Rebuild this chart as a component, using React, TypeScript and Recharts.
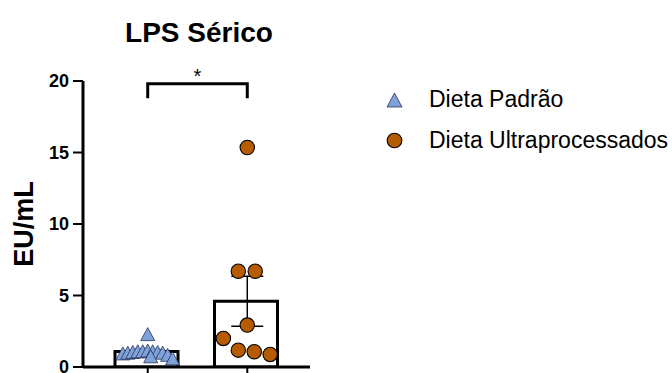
import React from 'react';
import {
  ComposedChart,
  Bar,
  Scatter,
  Line,
  XAxis,
  YAxis,
  ErrorBar,
  ReferenceDot,
} from 'recharts';

// Group names (x categories) and individual measurements (EU/mL)
const groups = ['Dieta Padrão', 'Dieta Ultraprocessados'];
const padraoValues = [2.3, 0.95, 1.0, 1.05, 1.1, 1.1, 1.15, 1.1, 1.05, 1.0, 0.85, 0.6, 0.75];
const padraoSpread = [0, -0.25, -0.2, -0.15, -0.1, -0.05, 0, 0.05, 0.1, 0.15, 0.2, 0.25, 0.03];
const ultraValues = [15.35, 6.7, 6.7, 2.93, 2.0, 1.18, 1.07, 0.88];
const ultraSpread = [0, -0.09, 0.08, 0, -0.24, -0.09, 0.07, 0.23];
const yTicks = [0, 5, 10, 15, 20];
const bracketLow = 18.8;
const bracketHigh = 19.8;
const significance = '*';
const title = 'LPS Sérico';
const yLabel = 'EU/mL';

const BLUE = '#7fa2d8';
const BLUE_EDGE = '#27345e';
const ORANGE = '#b65b00';
const FONT = '"Liberation Sans", Arial, Helvetica, sans-serif';

const mean = (v: number[]) => v.reduce((a, b) => a + b, 0) / v.length;
const sem = (v: number[]) => {
  const m = mean(v);
  const sd = Math.sqrt(v.reduce((a, b) => a + (b - m) ** 2, 0) / (v.length - 1));
  return sd / Math.sqrt(v.length);
};

const summary = [
  { x: 0, name: groups[0], mean: mean(padraoValues), sem: sem(padraoValues) },
  { x: 1, name: groups[1], mean: mean(ultraValues), sem: sem(ultraValues) },
];

const padraoPoints = padraoValues.map((y, i) => ({ x: 0 + padraoSpread[i], y }));
const ultraPoints = ultraValues.map((y, i) => ({ x: 1 + ultraSpread[i], y }));

const bracket = [
  { x: 0, y: bracketLow },
  { x: 0, y: bracketHigh },
  { x: 1, y: bracketHigh },
  { x: 1, y: bracketLow },
];

const TRI_W = 14;
const TRI_H = 13;

const Triangle = (props: any) => {
  const { cx, cy } = props;
  if (cx == null || cy == null) return <g />;
  return (
    <polygon
      points={`${cx},${cy - TRI_H / 2} ${cx - TRI_W / 2},${cy + TRI_H / 2} ${cx + TRI_W / 2},${cy + TRI_H / 2}`}
      fill={BLUE}
      stroke={BLUE_EDGE}
      strokeWidth={0.8}
    />
  );
};

const Dot = (props: any) => {
  const { cx, cy } = props;
  if (cx == null || cy == null) return <g />;
  return <circle cx={cx} cy={cy} r={7.2} fill={ORANGE} stroke="#000" strokeWidth={1.1} />;
};

const Hidden = () => <g />;

// Title and legend drawn on top of the chart surface
const Overlay = () => (
  <svg
    width={672}
    height={373}
    style={{ position: 'absolute', left: 0, top: 0, pointerEvents: 'none' }}
  >
    <text x={199} y={42} textAnchor="middle" fontFamily={FONT} fontWeight="bold" fontSize={28} fill="#000">
      {title}
    </text>
    <polygon
      points={`394.5,93 387,107 402,107`}
      fill={BLUE}
      stroke={BLUE_EDGE}
      strokeWidth={0.8}
    />
    <text x={429} y={107} fontFamily={FONT} fontSize={23} fill="#000">
      {groups[0]}
    </text>
    <circle cx={394.5} cy={140.5} r={7.3} fill={ORANGE} stroke="#000" strokeWidth={1.1} />
    <text x={429} y={148} fontFamily={FONT} fontSize={23} fill="#000">
      {groups[1]}
    </text>
  </svg>
);

export default function App() {
  return (
    <div style={{ position: 'absolute', left: 0, top: 0, width: 672, height: 373, background: '#fff' }}>
      <ComposedChart
        width={672}
        height={373}
        data={summary}
        margin={{ top: 81, right: 362, bottom: 0, left: 23 }}
      >
        <XAxis
          type="number"
          dataKey="x"
          domain={[-0.65, 1.63]}
          ticks={[0, 1]}
          allowDataOverflow
          tickFormatter={() => ''}
          tickSize={6}
          height={6}
          axisLine={{ stroke: '#000', strokeWidth: 3 }}
          tickLine={{ stroke: '#000', strokeWidth: 2 }}
        />
        <XAxis xAxisId="groups" type="category" dataKey="name" hide padding={{ left: 14, right: 14 }} />
        <YAxis
          type="number"
          domain={[0, 20]}
          ticks={yTicks}
          interval={0}
          allowDataOverflow
          width={60}
          tickSize={10}
          tickMargin={4}
          axisLine={{ stroke: '#000', strokeWidth: 3 }}
          tickLine={{ stroke: '#000', strokeWidth: 2 }}
          tick={{ fill: '#000', fontSize: 18, fontWeight: 'bold', fontFamily: FONT }}
          label={{
            content: (p: any) => {
              const vb = p.viewBox || {};
              const cy = (vb.y ?? 0) + (vb.height ?? 0) / 2;
              return (
                <text
                  x={33}
                  y={cy}
                  transform={`rotate(-90, 33, ${cy})`}
                  textAnchor="middle"
                  fontFamily={FONT}
                  fontWeight="bold"
                  fontSize={27}
                  fill="#000"
                >
                  {yLabel}
                </text>
              );
            },
          }}
        />
        <Bar
          xAxisId="groups"
          dataKey="mean"
          barSize={63}
          fill="#fff"
          stroke="#000"
          strokeWidth={3}
          isAnimationActive={false}
          legendType="none"
        />
        <Scatter
          name={groups[1]}
          data={ultraPoints}
          dataKey="y"
          shape={Dot}
          isAnimationActive={false}
        />
        <Scatter
          data={summary}
          dataKey="mean"
          shape={Hidden}
          isAnimationActive={false}
          legendType="none"
        >
          <ErrorBar dataKey="sem" direction="y" width={16} stroke="#000" strokeWidth={1.5} />
        </Scatter>
        <Scatter
          name={groups[0]}
          data={padraoPoints}
          dataKey="y"
          shape={Triangle}
          isAnimationActive={false}
        />
        <Line
          data={bracket}
          dataKey="y"
          type="linear"
          stroke="#000"
          strokeWidth={3}
          dot={false}
          isAnimationActive={false}
          legendType="none"
        />
        <ReferenceDot
          x={0.5}
          y={bracketHigh}
          r={0}
          ifOverflow="visible"
          label={{ value: significance, position: 'top', offset: 1, fill: '#000', fontSize: 20, fontFamily: FONT }}
        />
      </ComposedChart>
      <Overlay />
    </div>
  );
}
